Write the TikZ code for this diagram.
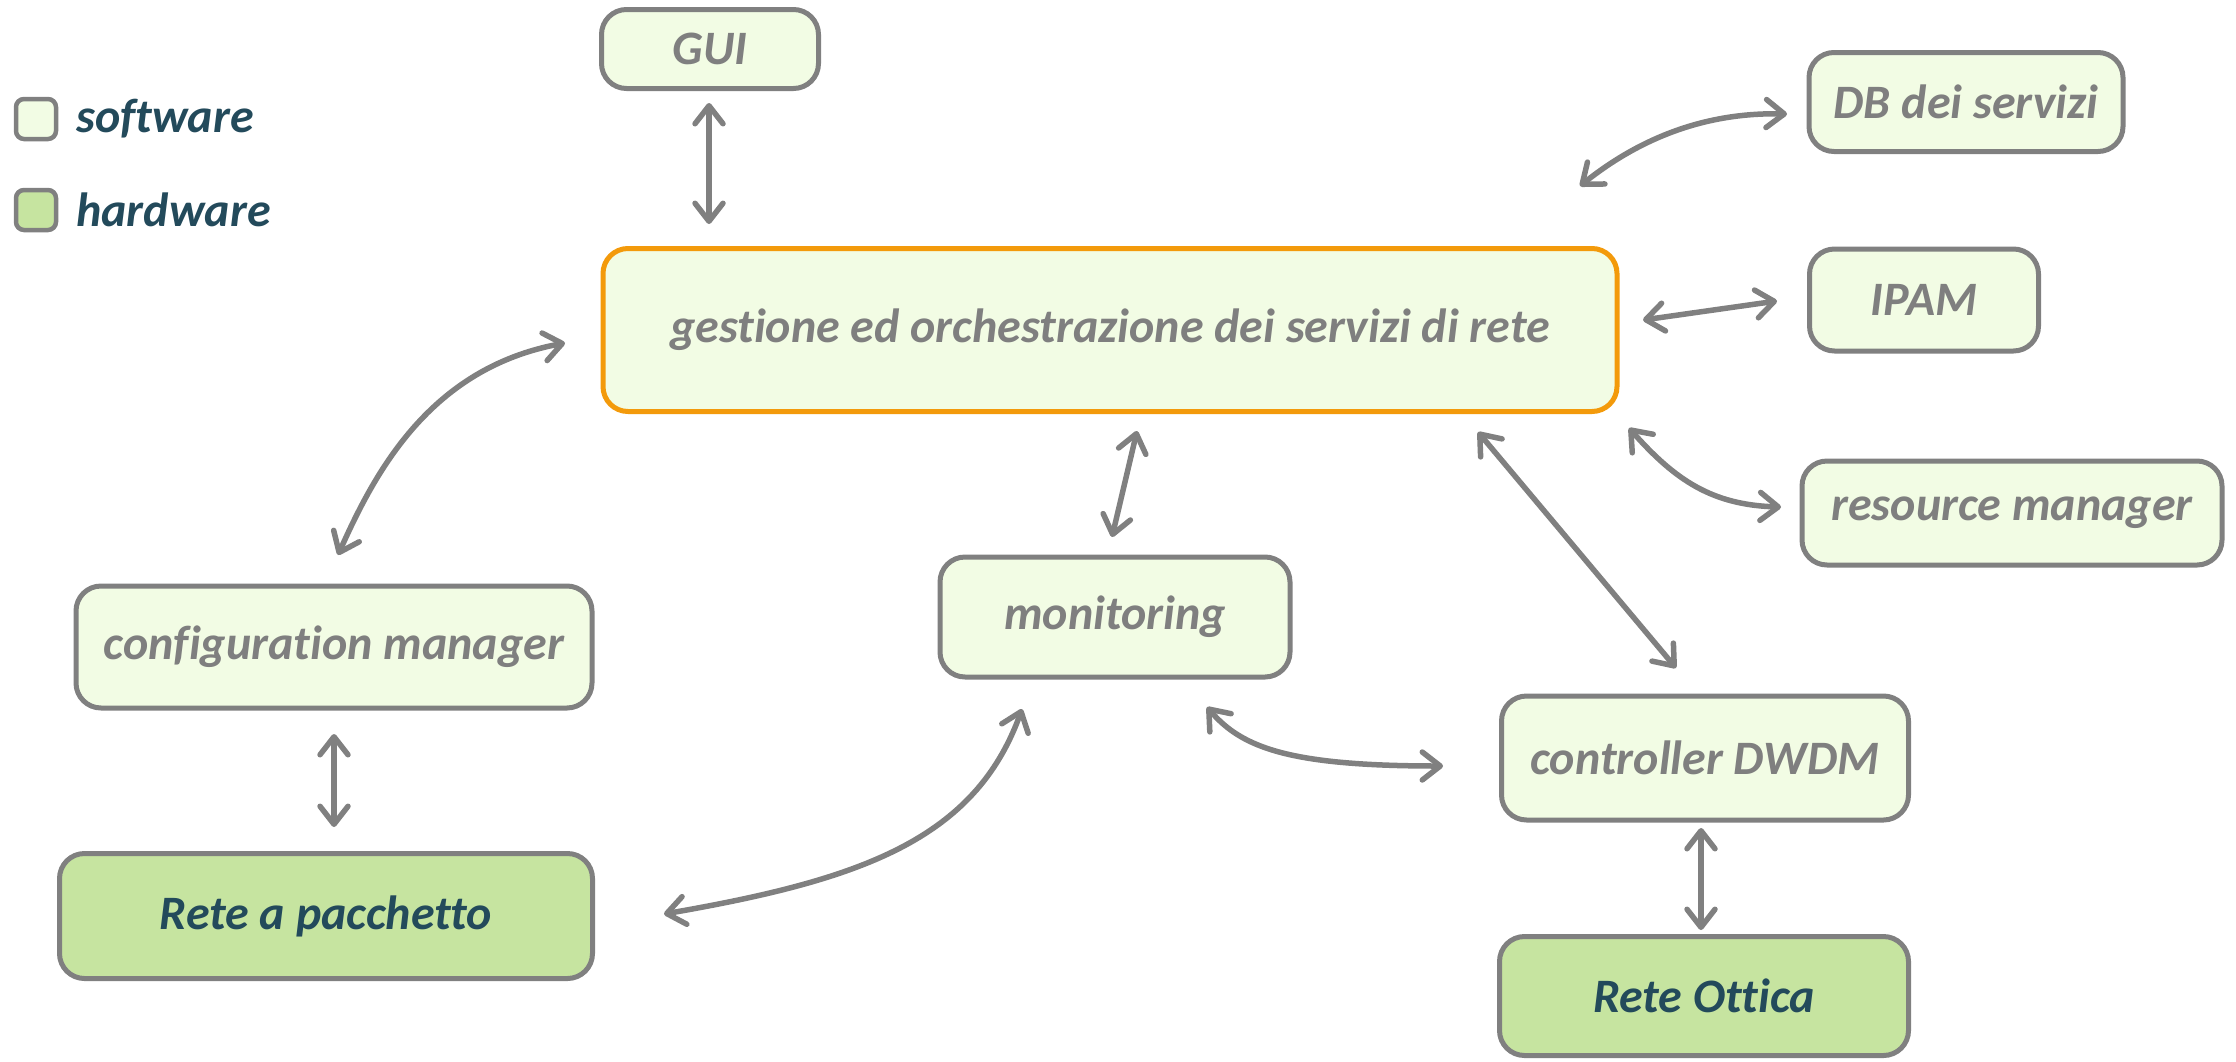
\documentclass[tikz,border=0pt]{standalone}
\usepackage{fontspec}
\setmainfont{Carlito}[Ligatures={NoCommon,NoContextual}]
\usetikzlibrary{arrows.meta}
\definecolor{swfill}{HTML}{F2FCE4}
\definecolor{hwfill}{HTML}{C6E4A0}
\definecolor{edgegray}{HTML}{808080}
\definecolor{orch}{HTML}{F39A0B}
\definecolor{swtext}{HTML}{7F7F7F}
\definecolor{hwtext}{HTML}{234A5B}
\tikzset{
  barb/.tip={Straight Barb[length=18pt,width=28pt,line cap=round,line join=round]},
  box/.style={draw=edgegray, line width=5pt, rounded corners=25pt, fill=swfill,
    text=swtext, font=\fontsize{48}{52}\selectfont\bfseries\itshape, inner sep=0pt},
  hwbox/.style={box, fill=hwfill, text=hwtext},
  orchbox/.style={box, draw=orch},
  keybox/.style={draw=edgegray, line width=4.5pt, rounded corners=8pt, inner sep=0pt,
    minimum width=40pt, minimum height=40pt},
  keytext/.style={text=hwtext, font=\fontsize{48}{52}\selectfont\bfseries\itshape,
    anchor=west, inner sep=0pt},
  link/.style={draw=edgegray, line width=5.5pt, line cap=round, barb-barb},
}
\begin{document}
\begin{tikzpicture}[x=1pt,y=-1pt]
\useasboundingbox (0,0) rectangle (2236,1061);

% legend
\node[keybox, fill=swfill] (keysw) at (36,119) {};
\node[keytext] (keyswt) at (76,119) {software};
\node[keybox, fill=hwfill] (keyhw) at (36,210) {};
\node[keytext] (keyhwt) at (76,210) {hardware};

% software blocks
\node[box, minimum width=217pt, minimum height=79pt] (gui) at (710,49) {GUI};
\node[box, minimum width=314pt, minimum height=99pt] (db) at (1966,102) {DB dei servizi};
\node[box, minimum width=229pt, minimum height=102pt] (ipam) at (1924,300) {IPAM};
\node[orchbox, minimum width=1014pt, minimum height=163pt] (orchestr) at (1110,330)
  {gestione ed orchestrazione dei servizi di rete};
\node[box, minimum width=420pt, minimum height=104pt] (resmgr) at (2012,513) {resource manager};
\node[box, minimum width=516pt, minimum height=122pt] (confmgr) at (334,647) {configuration manager};
\node[box, minimum width=350pt, minimum height=120pt] (monit) at (1115,617) {monitoring};
\node[box, minimum width=407pt, minimum height=124pt] (ctrl) at (1705,758) {controller DWDM};

% hardware blocks
\node[hwbox, minimum width=533pt, minimum height=125pt] (packet) at (326,916) {Rete a pacchetto};
\node[hwbox, minimum width=409pt, minimum height=119pt] (optical) at (1704,996) {Rete Ottica};

% connector end points, set just off the block edges
\coordinate (gui-s) at (709,103);
\coordinate (orch-n) at (709,224);
\coordinate (db-w) at (1787,114);
\coordinate (orch-ne) at (1580,186);
\coordinate (ipam-w) at (1777,301);
\coordinate (orch-e) at (1643,320);
\coordinate (resmgr-w) at (1781,507);
\coordinate (orch-se) at (1629,428);
\coordinate (orch-s2) at (1478,432);
\coordinate (ctrl-n) at (1676,668);
\coordinate (orch-s1) at (1137,431);
\coordinate (monit-n) at (1112,537);
\coordinate (orch-w) at (565,343);
\coordinate (confmgr-n) at (338,555);
\coordinate (confmgr-s) at (334,734);
\coordinate (packet-n) at (334,827);
\coordinate (monit-s1) at (1022,709);
\coordinate (packet-e) at (664,914);
\coordinate (monit-s2) at (1207,707);
\coordinate (ctrl-w) at (1443,766);
\coordinate (ctrl-s) at (1701,828);
\coordinate (optical-n) at (1701,930);

% connectors
\draw[link] (gui-s) -- (orch-n);
\draw[link] (orch-ne) .. controls (1635,142) and (1700,112) .. (db-w);
\draw[link] (orch-e) -- (ipam-w);
\draw[link] (orch-se) .. controls (1675,480) and (1712,505) .. (resmgr-w);
\draw[link] (orch-s2) -- (ctrl-n);
\draw[link] (orch-s1) -- (monit-n);
\draw[link] (confmgr-n) .. controls (375,472) and (430,368) .. (orch-w);
\draw[link] (confmgr-s) -- (packet-n);
\draw[link] (monit-s1) .. controls (975,840) and (860,880) .. (packet-e);
\draw[link] (monit-s2) .. controls (1242,748) and (1290,766) .. (ctrl-w);
\draw[link] (ctrl-s) -- (optical-n);
\end{tikzpicture}
\end{document}
